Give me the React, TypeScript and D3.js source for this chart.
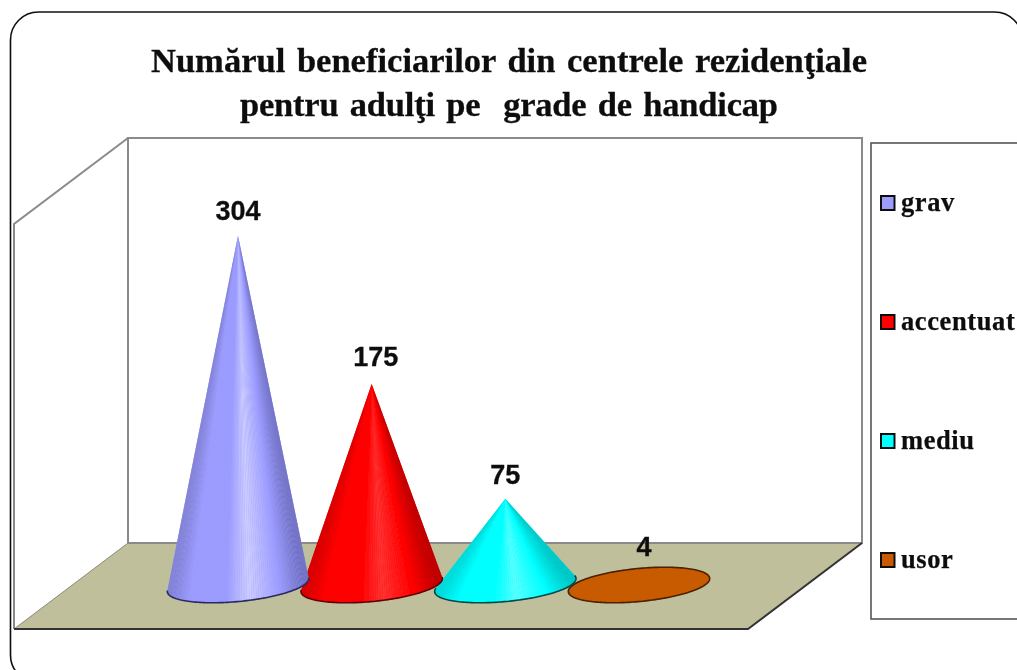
import React from "react";
import * as d3 from "d3";

const titleLines = ["Numărul beneficiarilor din centrele rezidenţiale", "pentru adulţi pe  grade de handicap"];
const categories = ["grav", "accentuat", "mediu", "usor"];
const values = [304, 175, 75, 4];
const baseColors = ["#9c9cff", "#ff0000", "#00ffff", "#c85a00"];
const lightColors = ["#cdcdff", "#ff3535", "#5cffff", "#cc5c00"];
const leftColors = ["#7a7ac8", "#c80000", "#00cccc", "#c05600"];
const rightColors = ["#6464b0", "#a80000", "#00b4b4", "#c05600"];
const edgeColors = ["#2a2a60", "#600000", "#004a4a", "#4a2000"];
const shadeStops = [0, 0.16, 0.42, 0.58, 0.8, 1];
const labelDx = [0, 4, 0, 5];
const labelDy = [16, 18, 15, 24];

const W = 1017, H = 670;
const wall = { l: 128, r: 862, t: 138, b: 543 };
const depth = { dx: 114, dy: 86 };
const baseY = 585, rx = 71, ry = 16.5, tilt = (-5.5 * Math.PI) / 180;

const x = d3.scalePoint<string>().domain(categories).range([238, 639]);
const y = d3.scaleLinear().domain([0, 350]).range([baseY, baseY - 402]);
const legendY = d3.scalePoint<string>().domain(categories).range([203, 560]);
const poly = d3.line();

function ellipsePoints(cx: number, cy: number): [number, number][] {
  return d3.range(0, 180).map((i) => {
    const a = (i / 180) * 2 * Math.PI;
    const ex = rx * Math.cos(a), ey = ry * Math.sin(a);
    return [cx + ex * Math.cos(tilt) - ey * Math.sin(tilt), cy + ex * Math.sin(tilt) + ey * Math.cos(tilt)];
  });
}

function Cone({ name, value, i }: { name: string; value: number; i: number }) {
  const cx = x(name)!;
  const apex: [number, number] = [cx, y(value)];
  const hull = d3.polygonHull([...ellipsePoints(cx, baseY), apex])!;
  const ai = hull.findIndex((p) => p[0] === apex[0] && p[1] === apex[1]);
  const isCone = ai >= 0;
  const outline = isCone ? [...hull.slice(ai + 1), ...hull.slice(0, ai)] : [...hull, hull[0]];
  const shade = d3
    .scaleLinear<string>()
    .domain(shadeStops)
    .range([leftColors[i], baseColors[i], baseColors[i], lightColors[i], baseColors[i], rightColors[i]])
    .clamp(true);
  const xs = d3.extent(outline, (p) => p[0]) as [number, number];
  return (
    <g>
      <path d={poly(hull)! + "Z"} fill={baseColors[i]} />
      {isCone &&
        d3.pairs(outline).map(([p, q], k) => {
          const t = ((p[0] + q[0]) / 2 - xs[0]) / (xs[1] - xs[0]);
          return <path key={k} d={poly([apex, p, q])! + "Z"} fill={shade(t)} />;
        })}
      <path d={poly(outline)!} fill="none" stroke={edgeColors[i]} strokeWidth={1.6} />
      <text x={cx + labelDx[i]} y={apex[1] - labelDy[i]} textAnchor="middle"
        fontFamily="'Liberation Sans'" fontWeight="bold" fontSize={27} stroke="#111" strokeWidth={0.3} fill="#111">{value}</text>
    </g>
  );
}

export default function App() {
  return (
    <svg width={W} height={H} style={{ position: "absolute", left: 0, top: 0, background: "#fff" }}>
      <defs>
        <filter id="soft"><feGaussianBlur stdDeviation="0.45" /></filter>
      </defs>
      <g filter="url(#soft)">
        <rect x={10.5} y={12} width={1012} height={671} rx={28} fill="#fff" stroke="#111" strokeWidth={1.6} />
        <path d={poly([[wall.l, wall.b], [wall.r, wall.b], [wall.r - depth.dx, wall.b + depth.dy], [wall.l - depth.dx, wall.b + depth.dy]])! + "Z"} fill="#bfbf9b" />
        <path d={poly([[wall.l, wall.b], [wall.l, wall.t], [wall.r, wall.t], [wall.r, wall.b], [wall.l, wall.b]])!} fill="none" stroke="#8a8a8a" strokeWidth={2} />
        <path d={poly([[wall.l, wall.t], [wall.l - depth.dx, wall.t + depth.dy], [wall.l - depth.dx, wall.b + depth.dy]])!} fill="none" stroke="#8a8a8a" strokeWidth={2} />
        <path d={poly([[wall.l, wall.b], [wall.l - depth.dx, wall.b + depth.dy]])!} stroke="#8a8a78" strokeWidth={1} />
        <path d={poly([[wall.l - depth.dx, wall.b + depth.dy], [wall.r - depth.dx, wall.b + depth.dy], [wall.r, wall.b]])!} fill="none" stroke="#333" strokeWidth={2} />
        {[...categories.keys()].reverse().map((i) => (
          <Cone key={i} name={categories[i]} value={values[i]} i={i} />
        ))}
        <text textAnchor="middle" fontFamily="'Liberation Serif'" fontWeight="bold" fontSize={34.5} wordSpacing={3} stroke="#111" strokeWidth={0.3} fill="#111">
          <tspan x={509} y={72} textLength={716}>{titleLines[0]}</tspan>
          <tspan x={509} y={116} textLength={538} style={{ whiteSpace: "pre" }}>{titleLines[1]}</tspan>
        </text>
        <rect x={871} y={143} width={160} height={476} fill="#fff" stroke="#555" strokeWidth={1.6} />
        {categories.map((c, i) => (
          <g key={c}>
            <rect x={881} y={legendY(c)! - 7} width={13.5} height={14} fill={baseColors[i]} stroke="#111" strokeWidth={2} />
            <text x={901} y={legendY(c)! + 8} fontFamily="'Liberation Serif'" fontWeight="bold" fontSize={26.5} letterSpacing={0.6} stroke="#111" strokeWidth={0.25} fill="#111">{c}</text>
          </g>
        ))}
      </g>
    </svg>
  );
}
